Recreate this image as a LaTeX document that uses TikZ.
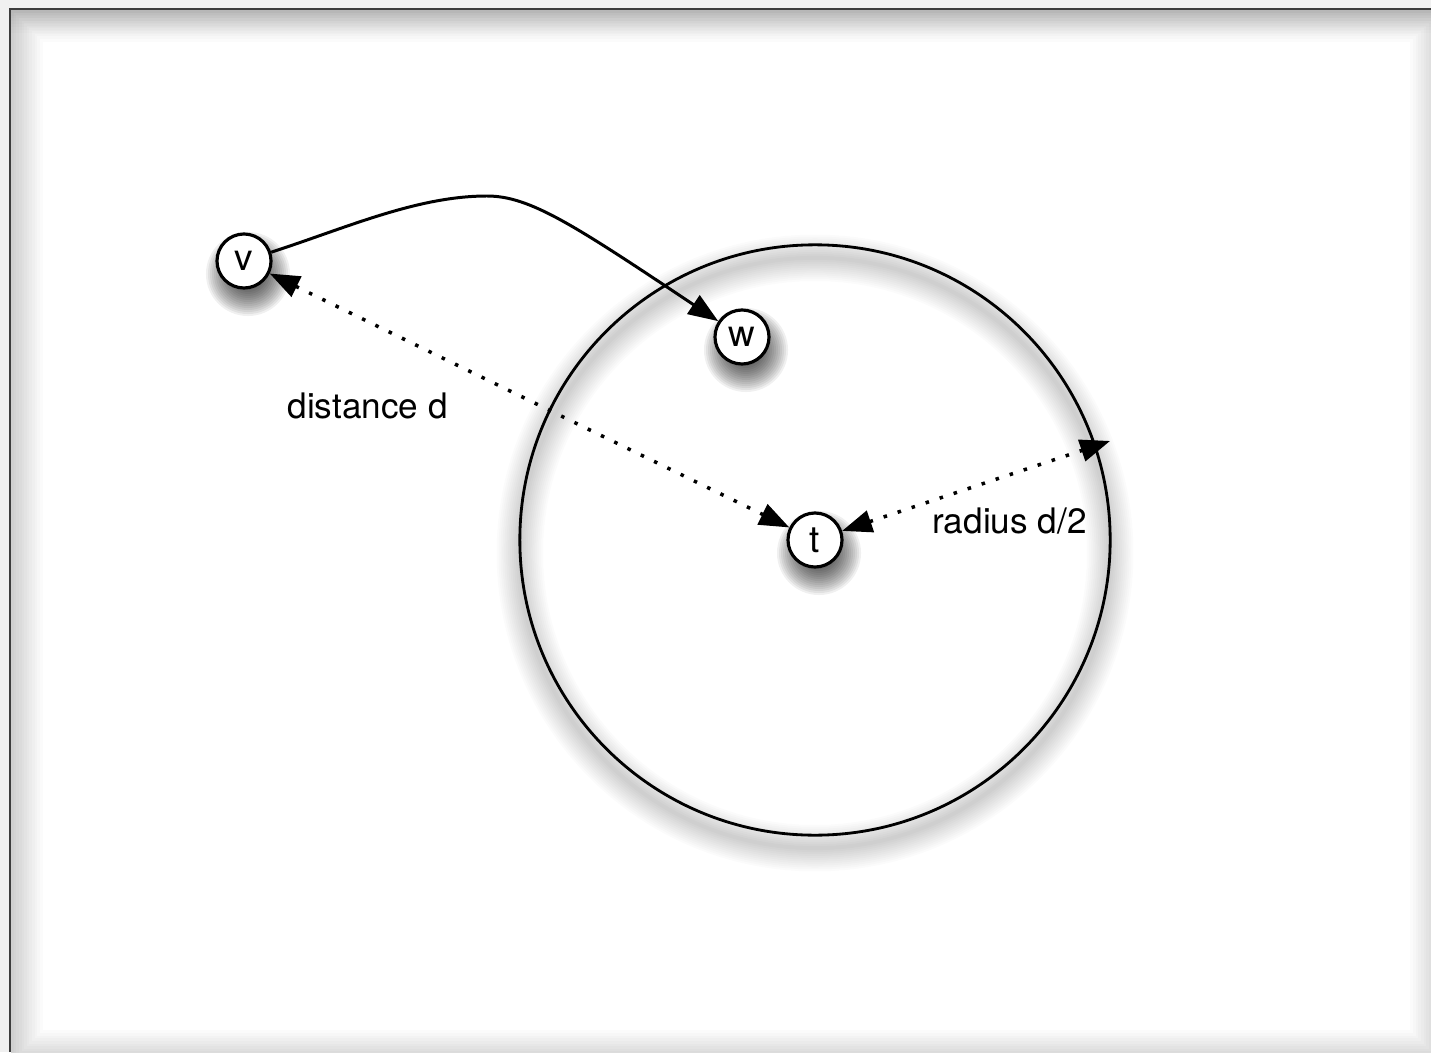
\documentclass[tikz,border=0pt]{standalone}
\usepackage{fontspec}
\setmainfont{TeX Gyre Heros}
\usetikzlibrary{arrows.meta}

\definecolor{framegray}{HTML}{3C3C3C}

\pgfdeclarelayer{back}
\pgfdeclarelayer{shade}
\pgfsetlayers{back,shade,main}

\tikzset{
  vertex/.style={circle, draw=black, line width=0.9pt, fill=white,
    minimum size=0.54cm, inner sep=0pt, font=\fontsize{10.5}{12}\selectfont},
  conn/.style={line width=0.85pt, -{Triangle[length=8.5pt,width=6.3pt]}},
  dotline/.style={line width=1pt, dash pattern=on 1pt off 3.2pt,
    {Triangle[length=8.5pt,width=6.3pt]}-{Triangle[length=8.5pt,width=6.3pt]}},
  caption/.style={font=\fontsize{10}{12}\selectfont, anchor=base, inner sep=0pt},
  softdrop/.style={black, opacity=0.06}
}

\begin{document}
\begin{tikzpicture}[x=0.01cm,y=-0.01cm]
  \useasboundingbox (0,0) rectangle (1431,1052);

  % window background and inner shadow
  \begin{pgfonlayer}{back}
    \fill[black!6] (0,0) rectangle (1431,1052);
    \fill[white] (10,9) rectangle (1431,1052);
    \begin{scope}
      \clip (11,10) rectangle (1431,1052);
      \foreach \k in {1,...,12}
        \draw[black, opacity=0.016, line width={\k*1.5pt}] (11,10) rectangle (1442,1062);
      \foreach \k in {1,...,8}
        \draw[black, opacity=0.012, line width={\k*1.6pt}] (11,10) -- (1442,10);
    \end{scope}
    \draw[framegray, line width=0.75pt] (10,1052) -- (10,9) -- (1431,9);
  \end{pgfonlayer}

  % ring of radius d/2 around t, with a soft shadow
  \begin{pgfonlayer}{shade}
    \foreach \k in {1,...,12}
      \draw[black, opacity=0.014, line width={\k*1.1pt}] (815,553) circle[radius=2.95cm];
  \end{pgfonlayer}
  \draw[black, line width=0.8pt] (815,540) circle[radius=2.95cm];

  % nodes
  \node[vertex] (v) at (244,261) {v};
  \node[vertex] (w) at (742,337) {w};
  \node[vertex] (t) at (815,540) {t};

  % drop shadows of the nodes
  \begin{pgfonlayer}{shade}
    \foreach \n in {v,w,t}
      \foreach \r in {0.42,0.40,...,0.14}
        \fill[softdrop] ([shift={(4,13)}]\n.center) circle[radius=\r cm];
  \end{pgfonlayer}

  \coordinate (top) at (487,196);
  \coordinate (rim) at (1110,441);

  % edge from v to w
  \draw[conn] (v) .. controls (346,228) and (417,196) .. (top)
                  .. controls (530,196) and (574,225) .. (w);

  % distance and radius markers
  \draw[dotline] (v) -- (t);
  \draw[dotline] (t) -- (rim);

  \node[caption] (dlabel) at (367.5,418) {distance d};
  \node[caption] (rlabel) at (1009.5,533) {radius d/2};
\end{tikzpicture}
\end{document}
